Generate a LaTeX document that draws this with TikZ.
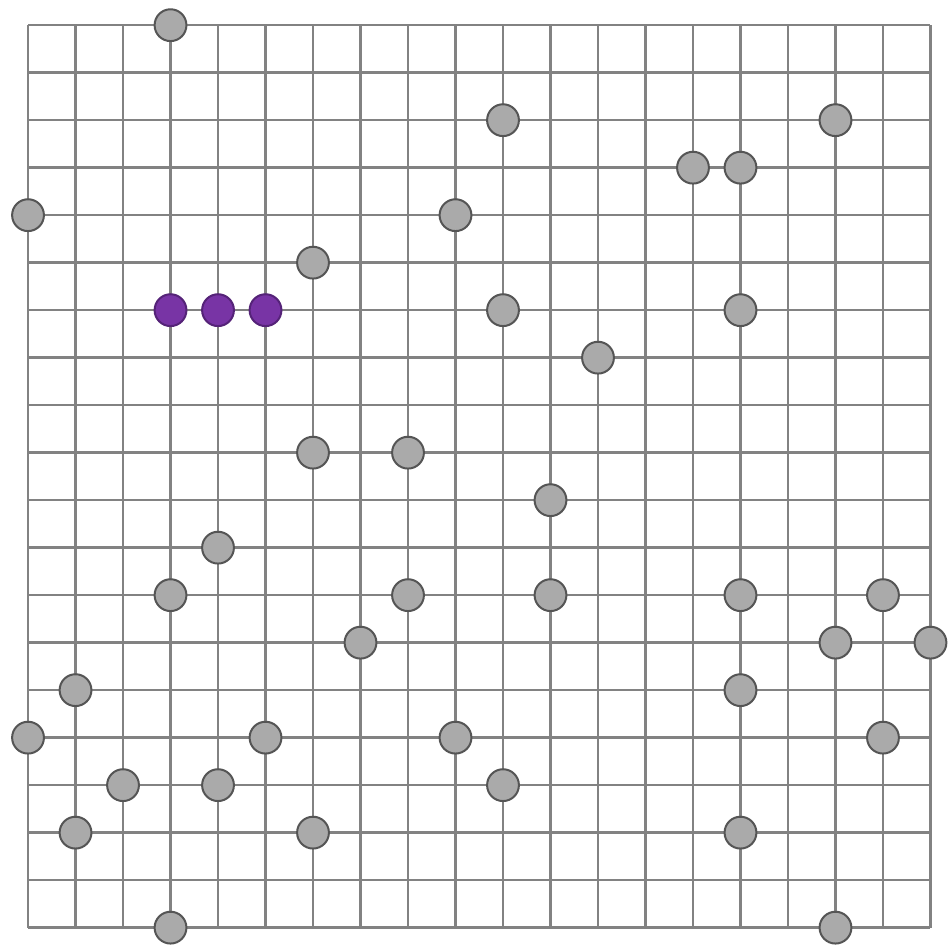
\documentclass[tikz,border=0pt]{standalone}
\usepackage{tikz}
\usetikzlibrary{backgrounds}
\usepackage{xcolor}
\definecolor{gridline}{RGB}{130,130,130}
\definecolor{stonefill}{RGB}{170,170,170}
\definecolor{stoneedge}{RGB}{85,85,85}
\definecolor{purplefill}{RGB}{120,52,165}
\definecolor{purpleedge}{RGB}{85,35,120}

\begin{document}
\begin{tikzpicture}[
      gridln/.style={draw=gridline, line width=1.5pt},
      stone/.style={circle, draw=stoneedge, fill=stonefill, line width=1.2pt,
                    minimum size=0.67cm, inner sep=0pt},
      picked/.style={circle, draw=purpleedge, fill=purplefill, line width=1.2pt,
                    minimum size=0.67cm, inner sep=0pt}
    ]
    \useasboundingbox[fill=white] (-0.59,0.53) rectangle (19.39,-19.45);
    % board
    \foreach \i in {0,...,19} {
      \draw[gridln] (\i,0) -- (\i,-19);
      \draw[gridln] (0,-\i) -- (19,-\i);
    }
    % grey stones (column/row)
    \foreach \c/\r in {3/0, 10/2, 17/2, 14/3, 15/3, 0/4, 9/4, 6/5, 10/6, 15/6,
                       12/7, 6/9, 8/9, 11/10, 4/11, 3/12, 8/12, 11/12, 15/12,
                       18/12, 7/13, 17/13, 19/13, 1/14, 15/14, 0/15, 5/15,
                       9/15, 18/15, 2/16, 4/16, 10/16, 1/17, 6/17, 15/17,
                       3/19, 17/19} {
      \node[stone] (s-\c-\r) at (\c,-\r) {};
    }
    % purple stones
    \node[picked] (p1) at (3,-6) {};
    \node[picked] (p2) at (4,-6) {};
    \node[picked] (p3) at (5,-6) {};
  \end{tikzpicture}
\end{document}
